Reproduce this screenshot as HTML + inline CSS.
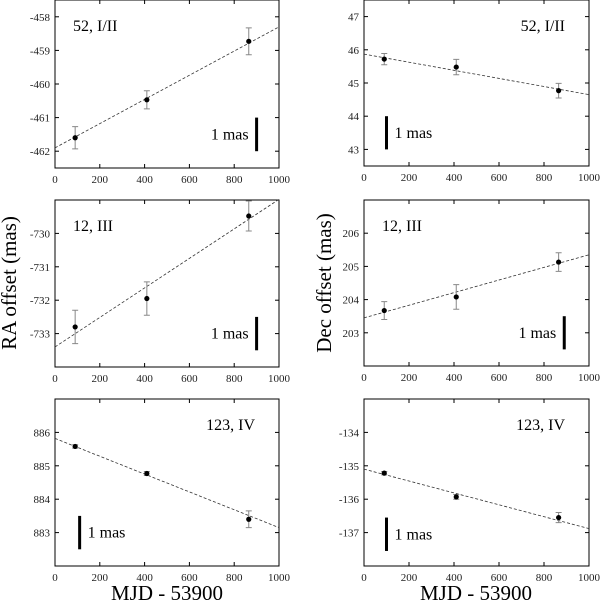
<!DOCTYPE html>
<html><head><meta charset="utf-8"><style>
body{margin:0;background:#fff;}
svg{display:block;font-family:"Liberation Serif",serif;}
svg text{font-family:"Liberation Serif",serif;}
</style></head><body>
<svg id="fig" width="600" height="608">
<text x="16" y="283" font-size="21" text-anchor="middle" transform="rotate(-90 16 283)">RA offset (mas)</text>
<text x="331" y="283" font-size="21" text-anchor="middle" transform="rotate(-90 331 283)">Dec offset (mas)</text>
<text x="167" y="600" font-size="21" text-anchor="middle">MJD - 53900</text>
<text x="476" y="600" font-size="21" text-anchor="middle">MJD - 53900</text>
</svg>
<script>
const epochs=[90,410,865];
const xTicks=[0,200,400,600,800,1000];
const labels=["52, I/II","52, I/II","12, III","12, III","123, IV","123, IV"];
const yMax=[-457.5,47.5,-729,207,887,-133];
const yMin=[-462.5,42.5,-734,202,882,-138];
const values=[[-461.6,-460.47,-458.73],[45.72,45.48,44.77],[-732.8,-731.95,-729.48],[203.67,204.08,205.13],[885.58,884.77,883.4],[-135.22,-135.93,-136.55]];
const errors=[[0.33,0.27,0.4],[0.17,0.23,0.22],[0.5,0.5,0.45],[0.27,0.37,0.28],[0.05,0.06,0.25],[0.05,0.07,0.15]];
const fitStart=[-461.9,45.87,-733.4,203.45,885.82,-135.1];
const fitEnd=[-458.3,44.65,-728.98,205.35,883.15,-136.88];
const barX=[900,100,900,890,110,100];
const barTop=[-461,44,-732.5,203.5,883.5,-136.55];
const labelRight=[false,true,false,false,true,true];
const boxes=[[55,0,279,168],[364,0,589,166],[55,200,279,367],[364,200,589,366],[55,399,279,566],[364,399,589,566]];
const svg=document.getElementById('fig');
const NS='http://www.w3.org/2000/svg';
function mk(tag,attrs,parent){const e=document.createElementNS(NS,tag);for(const k in attrs)e.setAttribute(k,attrs[k]);(parent||svg).appendChild(e);return e;}
boxes.forEach((b,i)=>{
  const [L,T,R,B]=b;
  const g=mk('g',{});
  
  
  const sx=v=>L+(v-0)/1000*(R-L);
  const sy=v=>T+(yMax[i]-v)/(yMax[i]-yMin[i])*(B-T);
  const frame=mk('rect',{x:L,y:T,width:R-L,height:B-T,fill:'none',stroke:'#000','stroke-width':1},g);
  
  
  xTicks.forEach(t=>{
    const x=sx(t);
    mk('line',{x1:x,x2:x,y1:B,y2:B-4,stroke:'#000'},g);
    mk('line',{x1:x,x2:x,y1:T,y2:T+4,stroke:'#000'},g);
    const tl=mk('text',{x:x,y:B+15,'font-size':11,'text-anchor':'middle',fill:'#222'},g);
    tl.textContent=t;
    
    
  });
  for(let v=Math.ceil(yMin[i]);v<=Math.floor(yMax[i]);v++){
    if(v-yMin[i]<0.3||yMax[i]-v<0.3)continue;
    const y=sy(v);
    mk('line',{x1:L,x2:L+4,y1:y,y2:y,stroke:'#000'},g);
    mk('line',{x1:R,x2:R-4,y1:y,y2:y,stroke:'#000'},g);
    const tl=mk('text',{x:L-5,y:y+4,'font-size':11,'text-anchor':'end',fill:'#222'},g);
    tl.textContent=v;
    
    
  }
  const fit=mk('line',{x1:sx(0),y1:sy(fitStart[i]),x2:sx(1000),y2:sy(fitEnd[i]),stroke:'#333','stroke-width':0.8,'stroke-dasharray':'3,2'},g);
  
  
  epochs.forEach((e,j)=>{
    const x=sx(e),y1=sy(values[i][j]+errors[i][j]),y2=sy(values[i][j]-errors[i][j]);
    const eb=mk('path',{d:`M${x},${y1}V${y2}M${x-3},${y1}H${x+3}M${x-3},${y2}H${x+3}`,stroke:'#888','stroke-width':1,fill:'none'},g);
    
    
    const p=mk('circle',{cx:x,cy:sy(values[i][j]),r:2.6,fill:'#000'},g);
    
    
  });
  const bx=sx(barX[i]);
  const bar=mk('line',{x1:bx,x2:bx,y1:sy(barTop[i]),y2:sy(barTop[i]-1),stroke:'#000','stroke-width':3},g);
  
  
  const bt=mk('text',{'font-size':16,y:sy(barTop[i]-0.5)+5},g);
  bt.textContent='1 mas';
  if(barX[i]>500){bt.setAttribute('x',bx-8);bt.setAttribute('text-anchor','end');}
  else{bt.setAttribute('x',bx+8);}
  
  
  const lt=mk('text',{'font-size':16,y:T+31},g);
  lt.textContent=labels[i];
  if(labelRight[i]){lt.setAttribute('x',R-24);lt.setAttribute('text-anchor','end');}
  else{lt.setAttribute('x',L+18);}
  
  
});
</script>
</body></html>
